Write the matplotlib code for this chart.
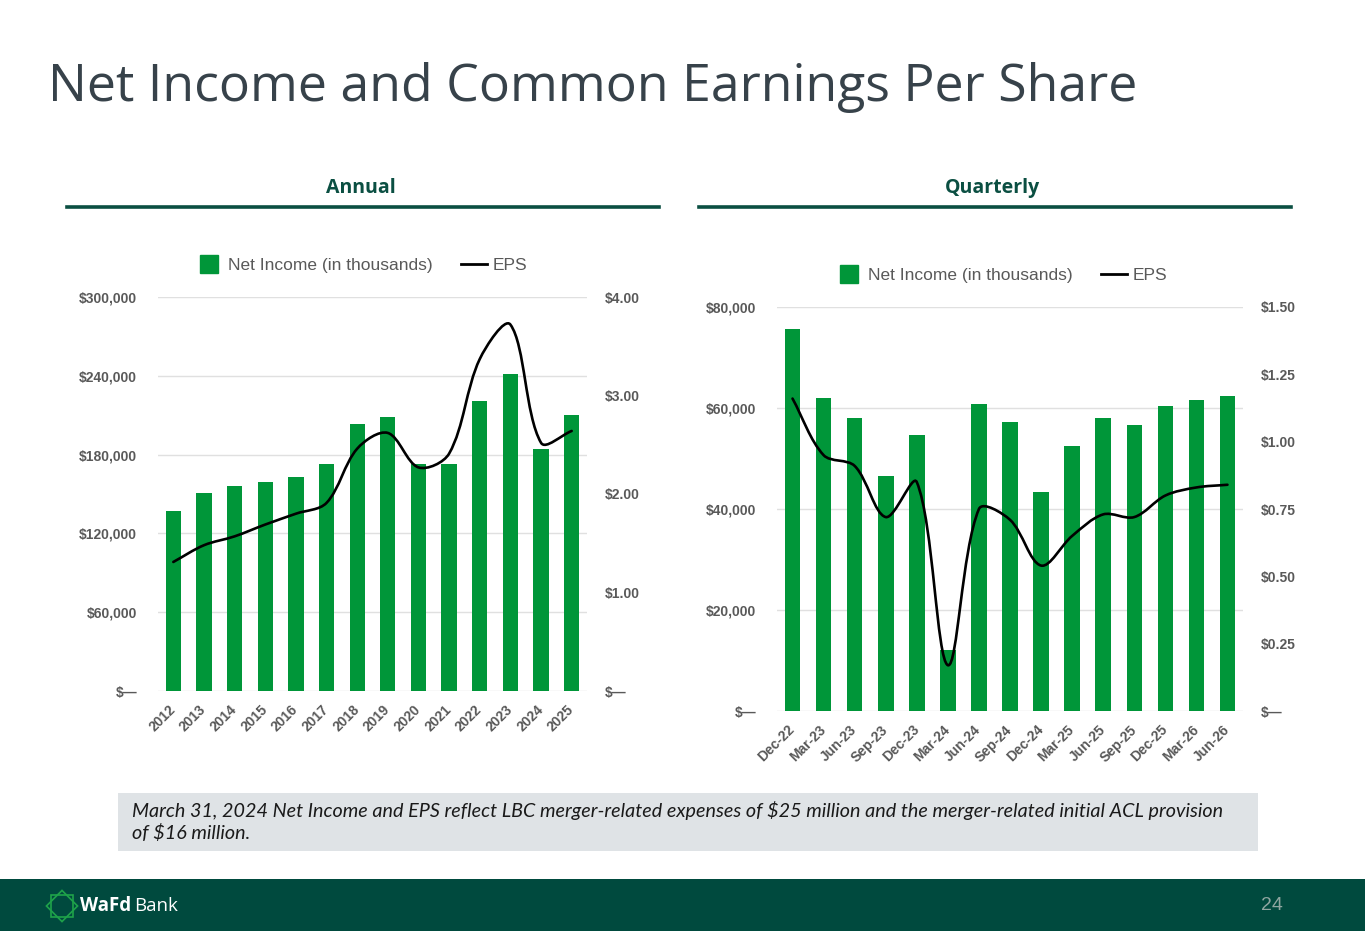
import numpy as np
import matplotlib
matplotlib.use("Agg")
import matplotlib.pyplot as plt
from matplotlib.path import Path
from matplotlib.patches import PathPatch, Rectangle, Polygon
from matplotlib.lines import Line2D

# annual data
years = ['2012', '2013', '2014', '2015', '2016', '2017', '2018',
         '2019', '2020', '2021', '2022', '2023', '2024', '2025']
annual_income = [137000, 151000, 156000, 159000, 163000, 173000, 203000,
                 209000, 173000, 173000, 221000, 241000, 184000, 210000]
annual_eps = [1.31, 1.48, 1.57, 1.69, 1.80, 1.91, 2.46,
              2.62, 2.27, 2.41, 3.37, 3.72, 2.52, 2.64]

# quarterly data
quarters = ['Dec-22', 'Mar-23', 'Jun-23', 'Sep-23', 'Dec-23', 'Mar-24', 'Jun-24',
            'Sep-24', 'Dec-24', 'Mar-25', 'Jun-25', 'Sep-25', 'Dec-25', 'Mar-26', 'Jun-26']
quarter_income = [75700, 62000, 58000, 46500, 54700, 12100, 60800,
                  57200, 43400, 52400, 58000, 56700, 60400, 61600, 62400]
quarter_eps = [1.16, 0.95, 0.91, 0.72, 0.85, 0.17, 0.75,
               0.71, 0.54, 0.65, 0.73, 0.72, 0.80, 0.83, 0.84]

GREEN = '#009639'
DARK = '#0b4f42'
GRAY = '#595959'
W, H = 1365, 931


def px(x0, y0, x1, y1):
    # pixel box -> figure fraction rect
    return [x0 / W, 1 - y1 / H, (x1 - x0) / W, (y1 - y0) / H]


def money(v, pos=None):
    return '$—' if v == 0 else f'${v:,.0f}'


def dollars(v, pos=None):
    return '$—' if v == 0 else f'${v:.2f}'


def smooth_line(ax, xs, ys):
    # excel-like smoothed line: bezier through the points, control arms
    # weighted by the on-screen segment lengths
    pts = ax.transData.transform(np.column_stack([xs, ys]).astype(float))
    n = len(pts)
    seg = np.hypot(*np.diff(pts, axis=0).T)
    verts = [pts[0]]
    codes = [Path.MOVETO]
    for i in range(n - 1):
        p1, p2 = pts[i], pts[i + 1]
        if i > 0:
            t1 = pts[i + 1] - pts[i - 1]
            c1 = p1 + t1 * seg[i] / (seg[i - 1] + seg[i]) / 3
        else:
            c1 = p1 + (p2 - p1) / 3
        if i + 2 < n:
            t2 = pts[i + 2] - pts[i]
            c2 = p2 - t2 * seg[i] / (seg[i] + seg[i + 1]) / 3
        else:
            c2 = p2 - (p2 - p1) / 3
        verts += [c1, c2, p2]
        codes += [Path.CURVE4] * 3
    verts = ax.transData.inverted().transform(np.array(verts))
    ax.add_patch(PathPatch(Path(verts, codes), fill=False, edgecolor='black',
                           lw=1.9, capstyle='round', joinstyle='round'))


def make_chart(fig, rect, labels, income, eps, ymax, ystep, emax, estep, legend_xy):
    ax = fig.add_axes(rect)
    x = np.arange(len(labels))
    ax.bar(x, income, width=0.5, color=GREEN, zorder=2)
    ax.set_xlim(-0.5, len(labels) - 0.5)
    ax.set_ylim(0, ymax)
    ax.set_yticks(np.arange(0, ymax + 1, ystep))
    ax.yaxis.set_major_formatter(money)
    ax.yaxis.grid(True, color='#e0e0e0', lw=1)
    ax.set_axisbelow(True)
    ax.set_xticks(x)
    ax.set_xticklabels(labels, rotation=45, ha='right', va='center',
                       rotation_mode='anchor')
    for s in ax.spines.values():
        s.set_visible(False)
    ax.tick_params(axis='y', length=0, pad=15, labelcolor=GRAY)
    ax.tick_params(axis='x', length=0, pad=12, labelcolor=GRAY)

    ax2 = ax.twinx()
    ax2.set_xlim(-0.5, len(labels) - 0.5)
    ax2.set_ylim(0, emax)
    ax2.set_yticks(np.arange(0, emax + 1e-9, estep))
    ax2.yaxis.set_major_formatter(dollars)
    for s in ax2.spines.values():
        s.set_visible(False)
    ax2.tick_params(axis='y', length=0, pad=13, labelcolor=GRAY)
    smooth_line(ax2, x, eps)

    for t in ax.get_xticklabels() + ax.get_yticklabels() + ax2.get_yticklabels():
        t.set_fontweight('bold')
        t.set_fontsize(10)
        t.set_family('Liberation Sans')

    handles = [Line2D([], [], marker='s', markersize=12.5, color=GREEN, ls='none'),
               Line2D([], [], color='black', lw=2)]
    fig.legend(handles, ['Net Income (in thousands)', 'EPS'], loc='center',
               bbox_to_anchor=(legend_xy[0] / W, 1 - legend_xy[1] / H), ncol=2,
               frameon=False, handlelength=1.5, handletextpad=0.35,
               columnspacing=1.6, prop={'family': 'Liberation Sans', 'size': 12.5},
               labelcolor=GRAY)
    return ax


fig = plt.figure(figsize=(W / 100, H / 100), dpi=100)

fig.text(48 / W, 1 - 101 / H, 'Net Income and Common Earnings Per Share',
         family='Open Sans', fontsize=37.3, color='#37424a', va='baseline')

for label, cx, x0, x1 in [('Annual', 361, 67, 659), ('Quarterly', 993, 699, 1291)]:
    fig.text(cx / W, 1 - 188 / H, label, family='Open Sans', fontweight='bold',
             fontsize=14, color=DARK, ha='center', va='center')
    fig.add_artist(Line2D([x0 / W, x1 / W], [1 - 206.5 / H] * 2, color=DARK, lw=2.6))

make_chart(fig, px(158, 297, 587, 691), years, annual_income, annual_eps,
           300000, 60000, 4.0, 1.0, (362, 265))
make_chart(fig, px(777, 307, 1243, 711), quarters, quarter_income, quarter_eps,
           80000, 20000, 1.5, 0.25, (1002, 275))

# footnote box
fig.add_artist(Rectangle((118 / W, 1 - 851 / H), 1140 / W, 58 / H,
                         transform=fig.transFigure, color='#dfe3e6', lw=0))
fig.text(132 / W, 1 - 811 / H,
         'March 31, 2024 Net Income and EPS reflect LBC merger-related expenses of $25 million and the merger-related initial ACL provision',
         family='Lato', style='italic', fontsize=14.2, color='#1a1a1a', va='center')
fig.text(132 / W, 1 - 833 / H, 'of $16 million.',
         family='Lato', style='italic', fontsize=14.2, color='#1a1a1a', va='center')

# footer band
fig.add_artist(Rectangle((0, 0), 1, 52 / H, transform=fig.transFigure,
                         color='#004a3e', lw=0))
sq = np.array([[-1, -1], [1, -1], [1, 1], [-1, 1]]) * 11
for ang in (0, 45):
    a = np.deg2rad(ang)
    r = sq @ np.array([[np.cos(a), np.sin(a)], [-np.sin(a), np.cos(a)]])
    pts = (r + [62, 906]) / [W, H]
    pts[:, 1] = 1 - pts[:, 1]
    fig.add_artist(Polygon(pts, closed=True, fill=False, edgecolor='#1fa34a',
                           lw=1.2, transform=fig.transFigure))
wafd = fig.text(80 / W, 1 - 906 / H, 'WaFd', family='Open Sans', fontweight='bold',
                fontsize=13.5, color='white', va='center')
bb = wafd.get_window_extent(fig.canvas.get_renderer())
fig.text(bb.x1 / W + 3 / W, 1 - 906 / H, 'Bank', family='Open Sans', fontsize=13.5,
         color='white', va='center')
fig.text(1272 / W, 1 - 906 / H, '24', family='Liberation Sans', fontsize=14,
         color='#8fa6a0', ha='center', va='center')

fig.savefig('out.png', dpi=100)
